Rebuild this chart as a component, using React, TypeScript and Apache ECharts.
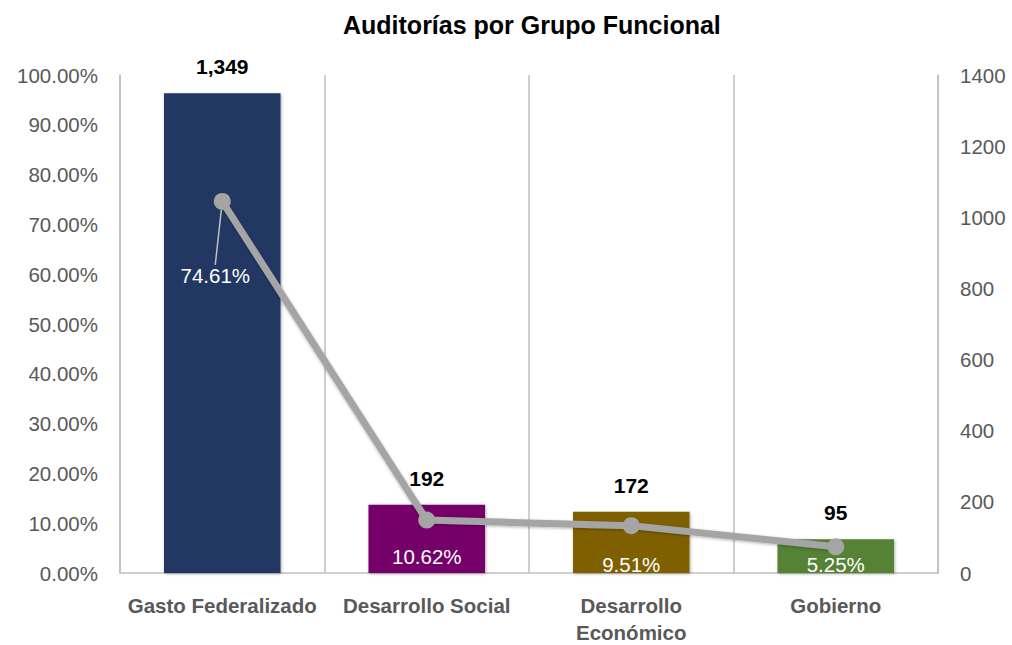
import React, { useEffect, useRef } from "react";
import * as echarts from "echarts";

const title = "Auditorías por Grupo Funcional";
const categories = ["Gasto Federalizado", "Desarrollo Social", "Desarrollo\nEconómico", "Gobierno"];
const auditCounts = [1349, 192, 172, 95];
const sharePercents = [74.61, 10.62, 9.51, 5.25];
const barColors = ["#203864", "#76006A", "#7F6000", "#548235"];

const FONT = "'Liberation Sans', 'DejaVu Sans', sans-serif";

export default function App() {
  const ref = useRef<HTMLDivElement>(null);
  useEffect(() => {
    if (!ref.current) return;
    const chart = echarts.init(ref.current, undefined, { renderer: "svg" });
    const labelOffsets = [
      [-7, 74],
      [0, 36],
      [0, 39],
      [0, 18],
    ];
    chart.setOption({
      animation: false,
      textStyle: { fontFamily: FONT },
      title: {
        text: title,
        left: 338,
        top: 7,
        textStyle: { fontFamily: FONT, fontSize: 25, fontWeight: "bold", color: "#000" },
      },
      grid: { left: 120, right: 74, top: 75, bottom: 72, outerBoundsMode: "none", containLabel: false },
      xAxis: {
        type: "category",
        data: categories,
        axisLine: { show: true, lineStyle: { color: "#BFBFBF", width: 1.5 } },
        axisTick: { show: false },
        splitLine: { show: true, lineStyle: { color: "#BFBFBF", width: 1.5 } },
        axisLabel: {
          color: "#595959",
          fontWeight: "bold",
          fontSize: 20.5,
          fontFamily: FONT,
          margin: 19,
          lineHeight: 27,
          interval: 0,
        },
      },
      yAxis: [
        {
          type: "value",
          min: 0,
          max: 100,
          interval: 10,
          position: "left",
          axisLine: { show: true, lineStyle: { color: "#BFBFBF", width: 1.5 } },
          axisTick: { show: false },
          splitLine: { show: false },
          axisLabel: {
            color: "#595959",
            fontSize: 20.5,
            fontFamily: FONT,
            margin: 22,
            formatter: (v: number) => v.toFixed(2) + "%",
          },
        },
        {
          type: "value",
          min: 0,
          max: 1400,
          interval: 200,
          position: "right",
          axisLine: { show: true, lineStyle: { color: "#BFBFBF", width: 1.5 } },
          axisTick: { show: false },
          splitLine: { show: false },
          axisLabel: {
            color: "#595959",
            fontSize: 20.5,
            fontFamily: FONT,
            margin: 22,
            formatter: (v: number) => String(v),
          },
        },
      ],
      series: [
        {
          type: "bar",
          yAxisIndex: 1,
          barWidth: "57%",
          data: auditCounts.map((v, i) => ({ value: v, itemStyle: { color: barColors[i] } })),
          itemStyle: { shadowBlur: 3, shadowColor: "rgba(0,0,0,0.3)", shadowOffsetX: 1, shadowOffsetY: 1 },
          label: {
            show: true,
            position: "top",
            distance: 16,
            color: "#000",
            fontWeight: "bold",
            fontSize: 21,
            fontFamily: FONT,
            formatter: (p: any) => p.value.toLocaleString("en-US"),
          },
        },
        {
          type: "line",
          yAxisIndex: 0,
          data: sharePercents.map((v, i) => ({
            value: v,
            labelLine: { show: i === 0, lineStyle: { color: "#BFBFBF", width: 1.5 } },
          })),
          symbol: "circle",
          symbolSize: 17,
          lineStyle: { color: "#A5A5A5", width: 7, shadowBlur: 3, shadowColor: "rgba(0,0,0,0.3)", shadowOffsetY: 1 },
          itemStyle: { color: "#A5A5A5" },
          label: {
            show: true,
            position: "inside",
            color: "#FFFFFF",
            fontSize: 20.5,
            fontFamily: FONT,
            formatter: (p: any) => p.value.toFixed(2) + "%",
          },
          labelLayout: (p: any) => ({ dx: labelOffsets[p.dataIndex][0], dy: labelOffsets[p.dataIndex][1] }),
          z: 5,
        },
      ],
    });
    return () => chart.dispose();
  }, []);
  return (
    <div
      ref={ref}
      style={{ position: "fixed", left: 0, top: 0, width: 1012, height: 645, background: "#fff" }}
    />
  );
}
